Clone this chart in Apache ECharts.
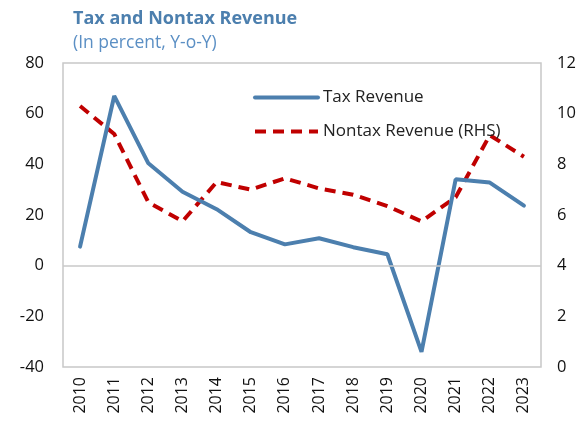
<!DOCTYPE html>
<html>
<head>
<meta charset="utf-8">
<script src="https://cdn.jsdelivr.net/npm/echarts@6/dist/echarts.min.js"></script>
<style>
  html, body { margin: 0; padding: 0; background: #fff; }
</style>
</head>
<body>
<!-- CHART: Tax and Nontax Revenue (in percent, y-o-y) -->
<div id="revenue" style="width:582px; height:424px"></div>
<script>
var years = ['2010', '2011', '2012', '2013', '2014', '2015', '2016',
             '2017', '2018', '2019', '2020', '2021', '2022', '2023'];
var taxRevenue = [7.5, 67, 40.4, 29.2, 22.3, 13.2, 8.4, 10.8, 7.3, 4.5, -34, 34.1, 32.8, 23.7];
var nontaxRevenue = [10.3, 9.2, 6.5, 5.75, 7.3, 7.0, 7.45, 7.05, 6.8, 6.35, 5.75, 6.7, 9.15, 8.3];
var leftTicks = [-40, 80, 20];   // min, max, interval
var rightTicks = [0, 12, 2];

var chartDom = document.getElementById('revenue');
var myChart = echarts.init(chartDom);
var font = '"Open Sans", "Noto Sans", sans-serif';

var option = {
  animation: false,
  textStyle: { fontFamily: font },
  title: {
    text: 'Tax and Nontax Revenue',
    subtext: '(In percent, Y-o-Y)',
    left: 68,
    top: 5,
    itemGap: 6,
    textStyle: { fontSize: 18, fontWeight: 'bold', color: '#4C7FAE', fontFamily: font },
    subtextStyle: { fontSize: 17.5, color: '#5B8FC4', fontFamily: font }
  },
  legend: {
    data: ['Tax Revenue', 'Nontax Revenue (RHS)'],
    orient: 'vertical',
    left: 253,
    top: 89,
    padding: 0,
    itemWidth: 63,
    itemHeight: 14,
    itemGap: 17,
    itemStyle: { opacity: 0 },
    lineStyle: { width: 4 },
    textStyle: { fontSize: 17, color: '#222', fontFamily: font }
  },
  grid: {
    left: 63,
    right: 41,
    top: 63,
    bottom: 57,
    show: true,
    borderColor: '#C8C8C8',
    borderWidth: 1.5
  },
  xAxis: {
    type: 'category',
    data: years,
    boundaryGap: true,
    axisLine: { show: false },
    axisTick: { show: false },
    axisLabel: { rotate: 90, fontSize: 16, color: '#111', margin: 10 }
  },
  yAxis: [
    {
      type: 'value',
      min: leftTicks[0],
      max: leftTicks[1],
      interval: leftTicks[2],
      axisLine: { show: false },
      axisTick: { show: false },
      splitLine: { show: false },
      axisLabel: { fontSize: 16.5, color: '#111', margin: 19 }
    },
    {
      type: 'value',
      min: rightTicks[0],
      max: rightTicks[1],
      interval: rightTicks[2],
      axisLine: { show: false },
      axisTick: { show: false },
      splitLine: { show: false },
      axisLabel: { fontSize: 16.5, color: '#111', margin: 16 }
    }
  ],
  series: [
    {
      name: 'Tax Revenue',
      type: 'line',
      yAxisIndex: 0,
      data: taxRevenue,
      symbol: 'none',
      color: '#4C7FAE',
      lineStyle: { width: 4, color: '#4C7FAE', cap: 'round' },
      markLine: {
        silent: true,
        symbol: 'none',
        label: { show: false },
        lineStyle: { color: '#C8C8C8', width: 1.5, type: 'solid' },
        data: [{ yAxis: 0 }]
      },
      z: 3
    },
    {
      name: 'Nontax Revenue (RHS)',
      type: 'line',
      yAxisIndex: 1,
      data: nontaxRevenue,
      symbol: 'none',
      color: '#C00000',
      lineStyle: { width: 4, color: '#C00000', type: [11, 7] },
      z: 2
    }
  ]
};

option && myChart.setOption(option);
</script>
</body>
</html>
